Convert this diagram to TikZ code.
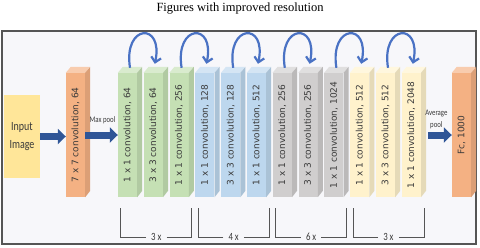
\documentclass[tikz,border=0pt]{standalone}
\usepackage{fontspec}
\usetikzlibrary{positioning,calc,arrows.meta}
\newfontfamily\blockfont{DejaVu Sans}
\newfontfamily\narrowfont[FakeStretch=0.8]{Carlito}
\newfontfamily\titlefont{Liberation Serif}
\definecolor{framebg}{HTML}{F7F7FA}
\definecolor{framegray}{HTML}{555555}
\definecolor{inputyellow}{HTML}{FFE699}
\definecolor{convorange}{HTML}{F4B183}
\definecolor{convgreen}{HTML}{C5E0B4}
\definecolor{convblue}{HTML}{BDD7EE}
\definecolor{convgray}{HTML}{D0CECE}
\definecolor{convcream}{HTML}{FFF2CC}
\definecolor{arrowblue}{HTML}{2F5597}
\definecolor{loopblue}{HTML}{4A72C4}
\definecolor{textgray}{HTML}{3A3A3A}
\newcommand\cubefaces[2]{%
  \fill[#2!65!white] (#1.north west) -- ++(5,-6) -- ++(19,0) -- (#1.north east) -- cycle;
  \fill[#2!90!black] (#1.north east) -- ++(5,-6) -- ++(0,124) -- (#1.south east) -- cycle;
}
\begin{document}
\begin{tikzpicture}[x=1pt, y=-1pt,
  node distance=6.4pt,
  every node/.style={inner sep=0pt, text=textgray},
  block/.style={minimum width=19pt, minimum height=124pt, font=\blockfont\fontsize{9}{10}\selectfont},
  bigarrow/.style={draw=arrowblue, line width=7pt, -{Triangle[length=8pt, width=15pt]}},
  resloop/.style={draw=loopblue, line width=2.2pt, -{Straight Barb[length=5pt, width=10pt]}},
  bracket/.style={draw=framegray, line width=0.7pt},
  rep/.style={inner sep=5pt, font=\narrowfont\fontsize{11}{12}\selectfont},
  pool/.style={align=center, font=\narrowfont\fontsize{8.5}{12}\selectfont}
]
\useasboundingbox (0,0) rectangle (480,247);
\node[font=\titlefont\fontsize{12.5}{14}\selectfont, text=black] (title) at (240,9) {Figures with improved resolution};
\draw[draw=framegray, line width=1.2pt, fill=framebg] (2,31) rectangle (476,244);

\node[fill=inputyellow, minimum width=36pt, minimum height=83pt, align=center,
      font=\narrowfont\fontsize{12.5}{18}\selectfont] (input) at (22,136.5) {Input\\Image};

\node[block, fill=convorange] (c7) at (75.5,135) {\rotatebox{90}{7 x 7 convolution, 64}};
\cubefaces{c7}{convorange}

\node[block, fill=convgreen] (g1) at (127.5,135) {\rotatebox{90}{1 x 1 convolution, 64}};
\node[block, fill=convgreen, right=of g1] (g2) {\rotatebox{90}{3 x 3 convolution, 64}};
\node[block, fill=convgreen, right=of g2] (g3) {\rotatebox{90}{1 x 1 convolution, 256}};
\node[block, fill=convblue, right=of g3] (b1) {\rotatebox{90}{1 x 1 convolution, 128}};
\node[block, fill=convblue, right=of b1] (b2) {\rotatebox{90}{3 x 3 convolution, 128}};
\node[block, fill=convblue, right=of b2] (b3) {\rotatebox{90}{1 x 1 convolution, 512}};
\node[block, fill=convgray, right=of b3] (s1) {\rotatebox{90}{1 x 1 convolution, 256}};
\node[block, fill=convgray, right=of s1] (s2) {\rotatebox{90}{3 x 3 convolution, 256}};
\node[block, fill=convgray, right=of s2] (s3) {\rotatebox{90}{1 x 1 convolution, 1024}};
\node[block, fill=convcream, right=of s3] (y1) {\rotatebox{90}{1 x 1 convolution, 512}};
\node[block, fill=convcream, right=of y1] (y2) {\rotatebox{90}{3 x 3 convolution, 512}};
\node[block, fill=convcream, right=of y2] (y3) {\rotatebox{90}{1 x 1 convolution, 2048}};
\cubefaces{g1}{convgreen}
\cubefaces{g2}{convgreen}
\cubefaces{g3}{convgreen}
\cubefaces{b1}{convblue}
\cubefaces{b2}{convblue}
\cubefaces{b3}{convblue}
\cubefaces{s1}{convgray}
\cubefaces{s2}{convgray}
\cubefaces{s3}{convgray}
\cubefaces{y1}{convcream}
\cubefaces{y2}{convcream}
\cubefaces{y3}{convcream}

\node[block, fill=convorange] (fc) at (461.5,135) {\rotatebox{90}{Fc, 1000}};
\cubefaces{fc}{convorange}

\draw[bigarrow] (input.east) -- (input.east -| c7.west);
\draw[bigarrow] (c7.east) -- (g1.west);
\node[pool] (maxpool) at ($(c7.east)!0.5!(g1.west)+(1,-15)$) {Max pool};
\draw[bigarrow] ($(y3.east)+(7,0)$) -- (fc.west);
\node[pool] (avgpool) at ($(y3.east)!0.5!(fc.west)+(0,-16)$) {Average\\pool};

\draw[resloop] ($(g1.north)+(2.5,-5)$) .. controls +(-7,-44) and +(9,-42) .. ($(g2.north)+(1.5,-9)$);
\draw[resloop] ($(g3.north)+(2.5,-5)$) .. controls +(-7,-44) and +(9,-42) .. ($(b1.north)+(1.5,-9)$);
\draw[resloop] ($(b2.north)+(2.5,-5)$) .. controls +(-7,-44) and +(9,-42) .. ($(b3.north)+(1.5,-9)$);
\draw[resloop] ($(s1.north)+(2.5,-5)$) .. controls +(-7,-44) and +(9,-42) .. ($(s2.north)+(1.5,-9)$);
\draw[resloop] ($(s3.north)+(2.5,-5)$) .. controls +(-7,-44) and +(9,-42) .. ($(y1.north)+(1.5,-9)$);
\draw[resloop] ($(y2.north)+(2.5,-5)$) .. controls +(-7,-44) and +(9,-42) .. ($(y3.north)+(1.5,-9)$);

\node[rep] (rep1) at ($(g1.south west)!0.5!(g3.south east)+(3,40)$) {3\,x};
\node[rep] (rep2) at ($(b1.south west)!0.5!(b3.south east)+(3,40)$) {4\,x};
\node[rep] (rep3) at ($(s1.south west)!0.5!(s3.south east)+(3,40)$) {6\,x};
\node[rep] (rep4) at ($(y1.south west)!0.5!(y3.south east)+(3,40)$) {3\,x};
\draw[bracket] (rep1.west) -| ($(g1.south west)+(3,11)$);
\draw[bracket] (rep1.east) -| ($(g3.south east)+(3,11)$);
\draw[bracket] (rep2.west) -| ($(b1.south west)+(3,11)$);
\draw[bracket] (rep2.east) -| ($(b3.south east)+(3,11)$);
\draw[bracket] (rep3.west) -| ($(s1.south west)+(3,11)$);
\draw[bracket] (rep3.east) -| ($(s3.south east)+(3,11)$);
\draw[bracket] (rep4.west) -| ($(y1.south west)+(3,11)$);
\draw[bracket] (rep4.east) -| ($(y3.south east)+(3,11)$);
\end{tikzpicture}
\end{document}
